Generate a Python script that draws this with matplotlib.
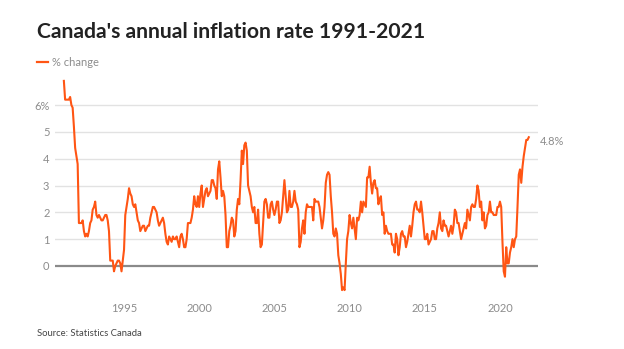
import matplotlib
matplotlib.use("Agg")
import matplotlib.pyplot as plt
import numpy as np

plt.rcParams['font.family'] = ['Lato', 'DejaVu Sans']

start_year = 1991
# Monthly year-over-year % change, Jan 1991 - Dec 2021
values = [
    # 1991
    6.9, 6.2, 6.2, 6.2, 6.2, 6.3, 6.0, 5.9, 5.2, 4.4, 4.1, 3.8,
    # 1992
    1.6, 1.6, 1.6, 1.7, 1.3, 1.1, 1.2, 1.1, 1.3, 1.6, 1.7, 2.1,
    # 1993
    2.2, 2.4, 1.9, 1.8, 1.9, 1.8, 1.7, 1.7, 1.8, 1.9, 1.9, 1.7,
    # 1994
    1.3, 0.2, 0.2, 0.2, -0.2, 0.0, 0.1, 0.2, 0.2, 0.1, -0.2, 0.2,
    # 1995
    0.6, 1.9, 2.2, 2.5, 2.9, 2.7, 2.6, 2.3, 2.2, 2.3, 2.0, 1.7,
    # 1996
    1.6, 1.3, 1.4, 1.5, 1.5, 1.3, 1.4, 1.5, 1.5, 1.8, 2.0, 2.2,
    # 1997
    2.2, 2.1, 2.0, 1.7, 1.5, 1.6, 1.7, 1.8, 1.6, 1.2, 0.9, 0.8,
    # 1998
    1.1, 1.0, 0.9, 1.1, 1.0, 1.0, 1.1, 0.9, 0.7, 1.1, 1.2, 1.0,
    # 1999
    0.7, 0.7, 1.0, 1.6, 1.6, 1.6, 1.8, 2.1, 2.6, 2.3, 2.2, 2.6,
    # 2000
    2.2, 2.7, 3.0, 2.2, 2.5, 2.8, 2.9, 2.6, 2.7, 2.8, 3.2, 3.2,
    # 2001
    3.0, 2.9, 2.5, 3.6, 3.9, 3.3, 2.6, 2.8, 2.6, 1.9, 0.7, 0.7,
    # 2002
    1.3, 1.5, 1.8, 1.7, 1.1, 1.3, 2.1, 2.5, 2.3, 3.2, 4.3, 3.8,
    # 2003
    4.5, 4.6, 4.3, 3.0, 2.8, 2.6, 2.2, 2.0, 2.2, 1.6, 1.6, 2.1,
    # 2004
    1.2, 0.7, 0.8, 1.6, 2.4, 2.5, 2.3, 1.8, 1.8, 2.3, 2.4, 2.1,
    # 2005
    1.9, 2.1, 2.4, 2.4, 1.6, 1.7, 2.0, 2.6, 3.2, 2.6, 2.0, 2.1,
    # 2006
    2.8, 2.2, 2.2, 2.4, 2.8, 2.4, 2.3, 2.1, 0.7, 0.9, 1.4, 1.7,
    # 2007
    1.2, 2.0, 2.3, 2.2, 2.2, 2.2, 2.2, 1.7, 2.5, 2.4, 2.4, 2.4,
    # 2008
    2.2, 1.8, 1.4, 1.7, 2.2, 3.1, 3.4, 3.5, 3.4, 2.6, 2.0, 1.2,
    # 2009
    1.1, 1.4, 1.2, 0.4, 0.1, -0.3, -0.9, -0.8, -0.9, 0.1, 1.0, 1.3,
    # 2010
    1.9, 1.6, 1.4, 1.8, 1.4, 1.0, 1.8, 1.7, 1.9, 2.4, 2.0, 2.4,
    # 2011
    2.3, 2.2, 3.3, 3.3, 3.7, 3.1, 2.7, 3.1, 3.2, 2.9, 2.9, 2.3,
    # 2012
    2.5, 2.6, 1.9, 2.0, 1.2, 1.5, 1.3, 1.2, 1.2, 1.2, 0.8, 0.8,
    # 2013
    0.5, 1.2, 1.0, 0.4, 0.7, 1.2, 1.3, 1.1, 1.1, 0.7, 0.9, 1.2,
    # 2014
    1.5, 1.1, 1.5, 2.0, 2.3, 2.4, 2.1, 2.1, 2.0, 2.4, 2.0, 1.5,
    # 2015
    1.0, 1.0, 1.2, 0.8, 0.9, 1.0, 1.3, 1.3, 1.0, 1.0, 1.4, 1.6,
    # 2016
    2.0, 1.4, 1.3, 1.7, 1.5, 1.5, 1.3, 1.1, 1.3, 1.5, 1.2, 1.5,
    # 2017
    2.1, 2.0, 1.6, 1.6, 1.3, 1.0, 1.2, 1.4, 1.6, 1.4, 2.1, 1.9,
    # 2018
    1.7, 2.2, 2.3, 2.2, 2.2, 2.5, 3.0, 2.8, 2.2, 2.4, 1.7, 2.0,
    # 2019
    1.4, 1.5, 1.9, 2.0, 2.4, 2.0, 2.0, 1.9, 1.9, 1.9, 2.2, 2.2,
    # 2020
    2.4, 2.2, 0.9, -0.2, -0.4, 0.7, 0.1, 0.1, 0.5, 0.7, 1.0, 0.7,
    # 2021
    1.0, 1.1, 2.2, 3.4, 3.6, 3.1, 3.7, 4.1, 4.4, 4.7, 4.7, 4.8,
]
dates = start_year + np.arange(len(values)) / 12.0

title = "Canada's annual inflation rate 1991-2021"
legend_label = "% change"
source = "Source: Statistics Canada"
y_ticks = [0, 1, 2, 3, 4, 5, 6]
y_tick_labels = ["0", "1", "2", "3", "4", "5", "6%"]
x_ticks = [1995, 2000, 2005, 2010, 2015, 2020]
end_label = "4.8%"

W, H = 624, 349
fig = plt.figure(figsize=(W / 100, H / 100), dpi=100)
fig.patch.set_facecolor("white")

ax = fig.add_axes([55 / W, (H - 292.8) / H, 483 / W, (292.8 - 78.2) / H])
ax.set_xlim(1990.41, 2022.53)
ax.set_ylim(-1.0, 7.0)

for y in y_ticks:
    if y == 0:
        ax.axhline(y, color="#8a8a8a", lw=1.6, zorder=1)
    else:
        ax.axhline(y, color="#e2e2e2", lw=1.0, zorder=1)

line_color = "#ff5514"
ax.plot(dates, values, color=line_color, lw=1.5, zorder=3, solid_joinstyle="round")

for s in ax.spines.values():
    s.set_visible(False)
ax.set_yticks(y_ticks)
ax.set_yticklabels(y_tick_labels)
ax.set_xticks(x_ticks)
ax.set_xticklabels([str(x) for x in x_ticks])
ax.tick_params(axis="both", length=0, labelsize=8, labelcolor="#8c8c8c")
ax.tick_params(axis="y", pad=4)
ax.tick_params(axis="x", pad=7)

ax.annotate(end_label, xy=(dates[-1], values[-1]), xytext=(8, -3),
            textcoords="offset points", fontsize=8, color="#8c8c8c",
            ha="left", va="center")

fig.text(37 / W, 1 - 32 / H, title, fontsize=15.2, fontweight="bold",
         color="#222222", ha="left", va="center")
fig.lines.append(plt.Line2D([37 / W, 48 / W], [1 - 62 / H, 1 - 62 / H],
                            transform=fig.transFigure, color=line_color, lw=1.6))
fig.text(52 / W, 1 - 62 / H, legend_label, fontsize=8, color="#8c8c8c",
         ha="left", va="center")
fig.text(37 / W, 1 - 333 / H, source, fontsize=6.8, color="#444444",
         ha="left", va="center")

fig.savefig("out.png", dpi=100, facecolor="white")
